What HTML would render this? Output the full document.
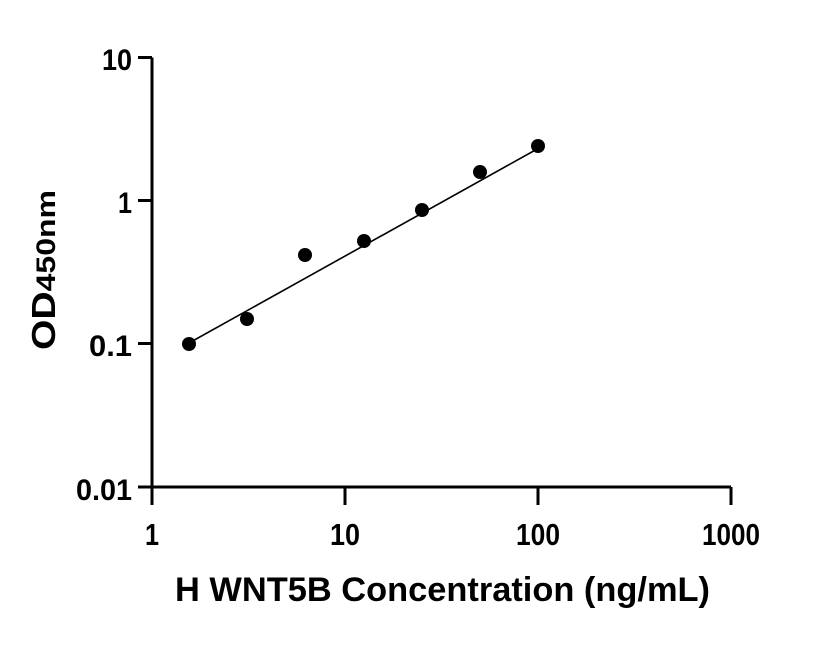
<!DOCTYPE html>
<html><head><meta charset="utf-8"><style>
body{margin:0;background:#fff;}
svg text{font-family:"Liberation Sans",sans-serif;font-weight:bold;fill:#000;}
</style></head><body>
<svg width="816" height="640" viewBox="0 0 816 640" xmlns="http://www.w3.org/2000/svg">
<g stroke="#000" stroke-width="3" fill="none">
<path d="M152 57.5 V487 H731"/>
<path d="M138 57.5 H152 M138 200.5 H152 M138 343.5 H152 M138 487 H152"/>
<path d="M152 487 V505 M345 487 V505 M538 487 V505 M731 487 V505"/>
</g>
<line x1="189" y1="343" x2="539" y2="148" stroke="#000" stroke-width="1.6"/>
<g fill="#000">
<circle cx="189" cy="344" r="7"/><circle cx="247" cy="319" r="7"/><circle cx="305" cy="255" r="7"/>
<circle cx="364" cy="241" r="7"/><circle cx="422" cy="210" r="7"/><circle cx="480" cy="172" r="7"/>
<circle cx="538" cy="146" r="7"/>
</g>
<g font-size="30">
<text x="102" y="70" textLength="30" lengthAdjust="spacingAndGlyphs">10</text>
<text x="118" y="213" textLength="14" lengthAdjust="spacingAndGlyphs">1</text>
<text x="89" y="356" textLength="43" lengthAdjust="spacingAndGlyphs">0.1</text>
<text x="76" y="500" textLength="56" lengthAdjust="spacingAndGlyphs">0.01</text>
</g>
<g font-size="31">
<text x="145" y="545" textLength="14" lengthAdjust="spacingAndGlyphs">1</text>
<text x="330" y="545" textLength="30" lengthAdjust="spacingAndGlyphs">10</text>
<text x="516" y="545" textLength="44" lengthAdjust="spacingAndGlyphs">100</text>
<text x="702" y="545" textLength="58" lengthAdjust="spacingAndGlyphs">1000</text>
</g>
<text x="175" y="601" font-size="34" textLength="535" lengthAdjust="spacingAndGlyphs">H WNT5B Concentration (ng/mL)</text>
<text transform="translate(55,350) rotate(-90)" font-size="33" textLength="160" lengthAdjust="spacingAndGlyphs">OD<tspan font-size="27" font-weight="normal" style="font-weight:600">450nm</tspan></text>
</svg>
</body></html>
